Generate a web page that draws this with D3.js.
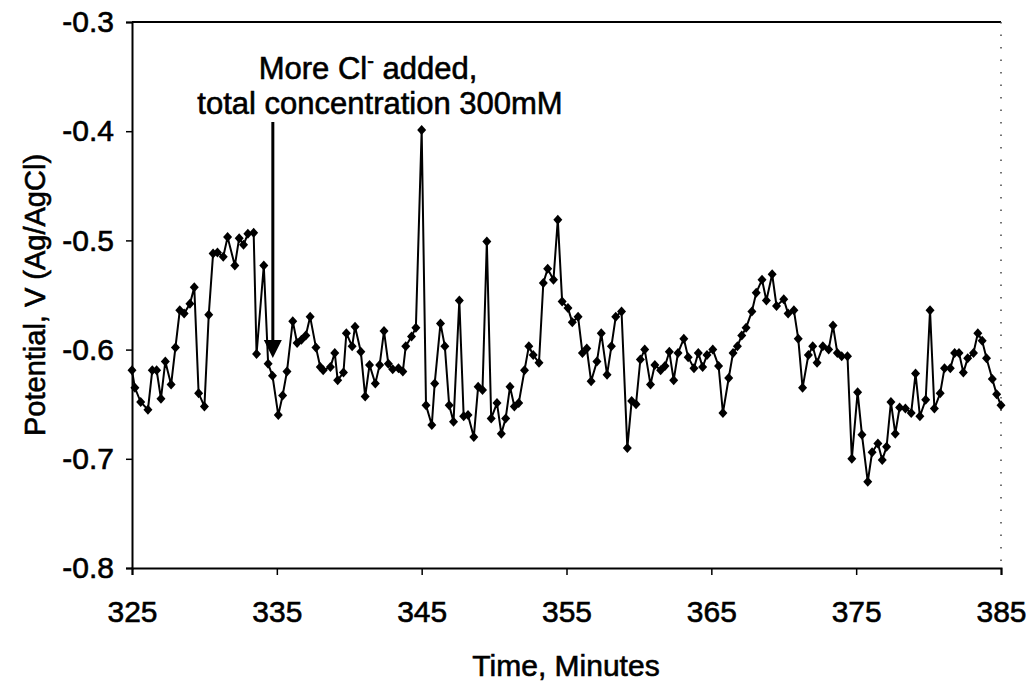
<!DOCTYPE html>
<html>
<head>
<meta charset="utf-8">
<script src="https://cdn.jsdelivr.net/npm/d3@7"></script>
<style>
  body { margin: 0; background: #fff; }
  svg text { font-family: "Liberation Sans", Arial, sans-serif; fill: #000; stroke: #000; stroke-width: 0.6px; }
</style>
</head>
<body>
<svg id="chart" width="1029" height="690"></svg>
<script>
// time in minutes
var times = [
  325.0, 325.2, 325.6, 326.1, 326.4, 326.7, 327.0, 327.3, 327.7, 328.0,
  328.3, 328.6, 329.0, 329.3, 329.6, 330.0, 330.3, 330.6, 330.9, 331.3,
  331.6, 332.1, 332.4, 332.7, 333.0, 333.4, 333.6, 334.1, 334.4, 334.7,
  335.1, 335.4, 335.7, 336.1, 336.4, 336.7, 337.0, 337.3, 337.7, 338.0,
  338.2, 338.7, 339.0, 339.2, 339.6, 339.8, 340.2, 340.4, 340.8, 341.1,
  341.4, 341.8, 342.1, 342.4, 342.7, 343.0, 343.4, 343.7, 343.9, 344.3,
  344.6, 345.0, 345.3, 345.7, 345.9, 346.3, 346.6, 346.9, 347.2, 347.6,
  347.9, 348.2, 348.6, 348.9, 349.2, 349.5, 349.8, 350.2, 350.5, 350.8,
  351.1, 351.4, 351.7, 352.1, 352.4, 352.7, 353.1, 353.4, 353.7, 354.1,
  354.4, 354.7, 355.1, 355.4, 355.8, 356.1, 356.4, 356.7, 357.1, 357.4,
  357.8, 358.1, 358.4, 358.8, 359.2, 359.5, 359.8, 360.1, 360.4, 360.8,
  361.1, 361.5, 361.8, 362.1, 362.4, 362.7, 363.1, 363.4, 363.8, 364.1,
  364.4, 364.7, 365.1, 365.5, 365.8, 366.2, 366.5, 366.8, 367.1, 367.4,
  367.8, 368.1, 368.5, 368.8, 369.2, 369.5, 370.0, 370.3, 370.7, 371.0,
  371.3, 371.7, 372.0, 372.3, 372.7, 373.1, 373.4, 373.7, 374.0, 374.4,
  374.7, 375.1, 375.4, 375.8, 376.1, 376.5, 376.8, 377.1, 377.4, 377.7,
  378.0, 378.4, 378.8, 379.1, 379.4, 379.8, 380.1, 380.4, 380.8, 381.1,
  381.5, 381.8, 382.1, 382.4, 382.7, 383.1, 383.4, 383.7, 384.0, 384.4,
  384.7, 385.0
];

// potential, V vs Ag/AgCl
var potential = [
  -0.619, -0.635, -0.648, -0.655, -0.619, -0.619, -0.645, -0.611, -0.632, -0.598,
  -0.564, -0.567, -0.558, -0.543, -0.640, -0.652, -0.568, -0.512, -0.511, -0.515,
  -0.497, -0.523, -0.498, -0.504, -0.494, -0.493, -0.604, -0.523, -0.613, -0.624,
  -0.660, -0.642, -0.620, -0.574, -0.594, -0.591, -0.587, -0.570, -0.598, -0.616,
  -0.619, -0.616, -0.603, -0.628, -0.621, -0.585, -0.597, -0.579, -0.602, -0.643,
  -0.614, -0.631, -0.614, -0.583, -0.613, -0.618, -0.617, -0.620, -0.597, -0.588,
  -0.580, -0.399, -0.651, -0.669, -0.631, -0.576, -0.597, -0.651, -0.666, -0.555,
  -0.661, -0.660, -0.680, -0.634, -0.637, -0.501, -0.663, -0.649, -0.677, -0.663,
  -0.634, -0.652, -0.649, -0.619, -0.597, -0.605, -0.612, -0.539, -0.526, -0.536,
  -0.481, -0.556, -0.562, -0.575, -0.570, -0.603, -0.599, -0.629, -0.611, -0.585,
  -0.623, -0.597, -0.570, -0.565, -0.690, -0.647, -0.650, -0.609, -0.600, -0.632,
  -0.614, -0.619, -0.615, -0.602, -0.628, -0.603, -0.590, -0.607, -0.617, -0.603,
  -0.616, -0.605, -0.600, -0.615, -0.658, -0.626, -0.603, -0.597, -0.587, -0.580,
  -0.565, -0.548, -0.536, -0.555, -0.531, -0.560, -0.554, -0.567, -0.564, -0.590,
  -0.635, -0.605, -0.597, -0.612, -0.597, -0.600, -0.578, -0.603, -0.606, -0.606,
  -0.700, -0.639, -0.678, -0.721, -0.694, -0.686, -0.701, -0.689, -0.648, -0.677,
  -0.653, -0.654, -0.658, -0.622, -0.661, -0.646, -0.564, -0.654, -0.640, -0.617,
  -0.617, -0.603, -0.603, -0.621, -0.608, -0.603, -0.585, -0.592, -0.608, -0.627,
  -0.641, -0.651
];

var xTicks = [325, 335, 345, 355, 365, 375, 385];
var yTicks = [-0.8, -0.7, -0.6, -0.5, -0.4, -0.3];
var yTickLabels = ["-0.8", "-0.7", "-0.6", "-0.5", "-0.4", "-0.3"];

var xTitle = "Time, Minutes";
var yTitle = "Potential, V (Ag/AgCl)";
var noteTime = 335;   // when the extra chloride went in

var svg = d3.select("#chart");

var x = d3.scaleLinear().domain([325, 385]).range([132, 1001]);
var y = d3.scaleLinear().domain([-0.8, -0.3]).range([568, 22]);

var pts = times.map(function(t, i) { return {t: t, v: potential[i]}; });

// plot frame: top line solid, right side faint dotted (as in the scan)
svg.append("line")
   .attr("x1", x(325)).attr("x2", x(385))
   .attr("y1", y(-0.3)).attr("y2", y(-0.3))
   .attr("stroke", "#000").attr("stroke-width", 2);
svg.append("line")
   .attr("x1", x(385)).attr("x2", x(385))
   .attr("y1", y(-0.3)).attr("y2", y(-0.8))
   .attr("stroke", "#444").attr("stroke-width", 1.5)
   .attr("stroke-dasharray", "1.5,11");

var xAxis = svg.append("g")
   .attr("transform", "translate(0," + y(-0.8) + ")")
   .call(d3.axisBottom(x).tickValues(xTicks).tickSize(7).tickPadding(26)
           .tickFormat(d3.format("d")));

var yAxis = svg.append("g")
   .attr("transform", "translate(" + x(325) + ",0)")
   .call(d3.axisLeft(y).tickValues(yTicks).tickSize(6).tickPadding(12)
           .tickFormat(function(d, i) { return yTickLabels[i]; }));

[xAxis, yAxis].forEach(function(g) {
  g.select(".domain").attr("stroke", "#000").attr("stroke-width", 2);
  g.selectAll(".tick line").attr("stroke", "#000").attr("stroke-width", 1.5);
  g.selectAll(".tick text")
   .style("font-family", "'Liberation Sans', Arial, sans-serif")
   .style("font-size", "30px")
   .attr("fill", "#000");
});

// series
var line = d3.line()
   .x(function(d) { return x(d.t); })
   .y(function(d) { return y(d.v); });

svg.append("path")
   .datum(pts)
   .attr("d", line)
   .attr("fill", "none")
   .attr("stroke", "#000")
   .attr("stroke-width", 2);

svg.append("g")
   .selectAll("path")
   .data(pts)
   .enter().append("path")
   .attr("d", "M0,-5L4.5,0L0,5L-4.5,0Z")
   .attr("transform", function(d) { return "translate(" + x(d.t) + "," + y(d.v) + ")"; })
   .attr("fill", "#000");

// axis titles
svg.append("text")
   .attr("x", 566).attr("y", 676)
   .attr("text-anchor", "middle")
   .style("font-size", "30px")
   .text(xTitle);

svg.append("text")
   .attr("transform", "translate(45,295) rotate(-90)")
   .attr("text-anchor", "middle")
   .style("font-size", "29px")
   .text(yTitle);

// annotation
var note = svg.append("text")
   .attr("x", 368).attr("y", 79)
   .attr("text-anchor", "middle")
   .style("font-size", "31px");
note.append("tspan").text("More Cl");
note.append("tspan").attr("dy", -11).style("font-size", "20px").text("-");
note.append("tspan").attr("dy", 11).text(" added,");

svg.append("text")
   .attr("x", 380).attr("y", 114)
   .attr("text-anchor", "middle")
   .style("font-size", "31px")
   .text("total concentration 300mM");

var ax = x(noteTime) - 4;
svg.append("line")
   .attr("x1", ax).attr("x2", ax)
   .attr("y1", 122).attr("y2", 342)
   .attr("stroke", "#000").attr("stroke-width", 3);
svg.append("path")
   .attr("d", "M" + (ax - 9) + ",340L" + (ax + 9) + ",340L" + ax + ",358Z")
   .attr("fill", "#000");
</script>
</body>
</html>
